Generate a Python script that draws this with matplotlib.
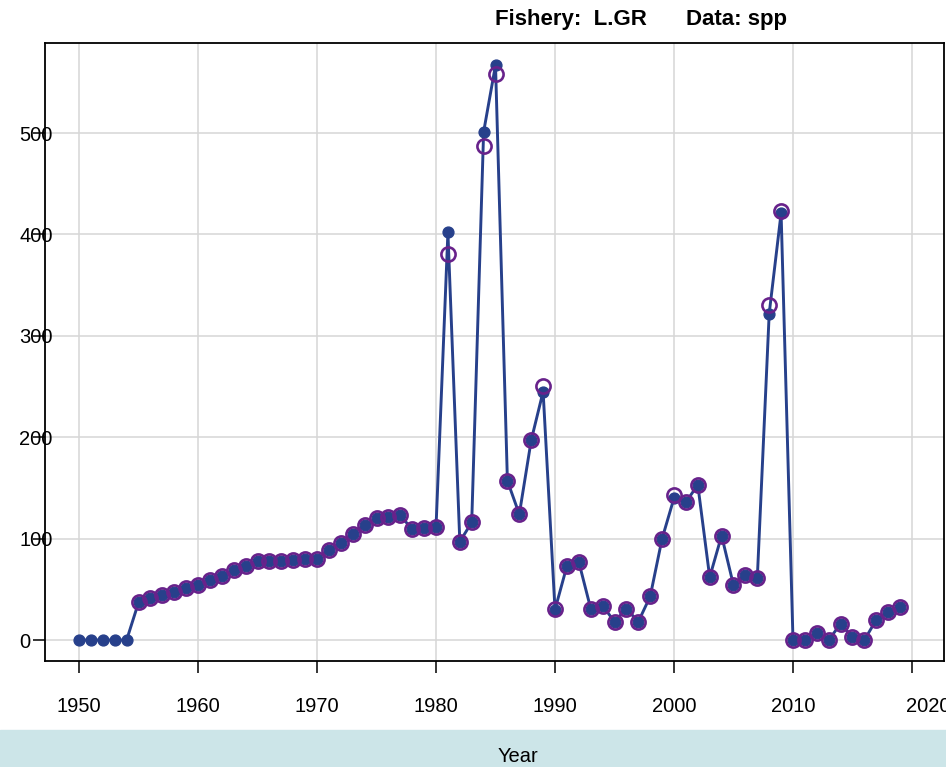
import numpy as np
import matplotlib
matplotlib.use('Agg')
import matplotlib.pyplot as plt
import matplotlib.transforms as mtransforms
from matplotlib.patches import Rectangle

plt.rcParams['font.family'] = ['Liberation Sans', 'DejaVu Sans']

years = np.arange(1950, 2020)

# observed catch (blue line + dots)
obs = [0, 0, 0, 0, 0, 37, 41, 44, 47, 51,
       54, 59, 63, 69, 73, 78, 78, 78, 79, 80,
       80, 89, 96, 105, 113, 120, 121, 123, 109, 110,
       111, 402, 97, 116, 501, 567, 157, 124, 197, 245,
       30, 73, 77, 31, 34, 18, 31, 18, 43, 100,
       140, 136, 153, 62, 103, 54, 64, 61, 322, 421,
       0, 0, 7, 0, 16, 3, 0, 20, 28, 33]

# predicted (purple open circles), none for the first five years
pred = [np.nan] * 5 + [37, 41, 44, 47, 51,
       54, 59, 63, 69, 73, 78, 78, 78, 79, 80,
       80, 89, 96, 105, 113, 120, 121, 123, 109, 110,
       111, 381, 97, 116, 487, 558, 157, 124, 197, 251,
       31, 73, 77, 31, 34, 18, 31, 18, 43, 100,
       143, 136, 153, 62, 103, 54, 64, 61, 330, 423,
       0, 0, 7, 0, 16, 3, 0, 20, 28, 33]

W, H = 946, 767
fig = plt.figure(figsize=(W / 100, H / 100), dpi=100)
ax = fig.add_axes([45 / W, (H - 661) / H, (944 - 45) / W, (661 - 43) / H])

ax.plot(years, obs, color='#27408B', lw=2.1, marker='o', ms=7.8, zorder=3)
ax.plot(years, pred, ls='none', marker='o', ms=10.2, mfc='none',
        mec='#68228B', mew=1.9, zorder=4)

ax.set_xlim(1947.14, 2022.69)
ax.set_ylim(-20.7, 588.8)
ax.set_xticks(np.arange(1950, 2030, 10))
ax.set_yticks(np.arange(0, 600, 100))
ax.grid(True, color='#d6d6d6', lw=1.1)
ax.set_axisbelow(True)

for s in ax.spines.values():
    s.set_linewidth(1.3)
ax.tick_params(axis='x', length=8.6, width=1.1, pad=17, labelsize=14.5)
ax.tick_params(axis='y', length=8.6, width=1.1, pad=10, labelsize=14.5)
for lab in ax.get_yticklabels():
    lab.set_horizontalalignment('left')
# last year label runs off the right edge like the original
last = ax.get_xticklabels()[-1]
last.set_horizontalalignment('left')
last.set_transform(last.get_transform() +
                   mtransforms.ScaledTranslation(-6 / 100, 0, fig.dpi_scale_trans))

# bottom strip with axis title
fig.patches.append(Rectangle((0, 0), 1, (H - 730) / H, transform=fig.transFigure,
                             color='#cce5e8', zorder=0))
fig.text(518 / W, 1 - 757 / H, 'Year', ha='center', va='center', fontsize=14.5)

fig.text(495 / W, 1 - 25 / H, 'Fishery:  L.GR', fontsize=16, fontweight='bold',
         ha='left', va='baseline')
fig.text(686 / W, 1 - 25 / H, 'Data: spp', fontsize=16, fontweight='bold',
         ha='left', va='baseline')

fig.savefig('out.png', dpi=100)
